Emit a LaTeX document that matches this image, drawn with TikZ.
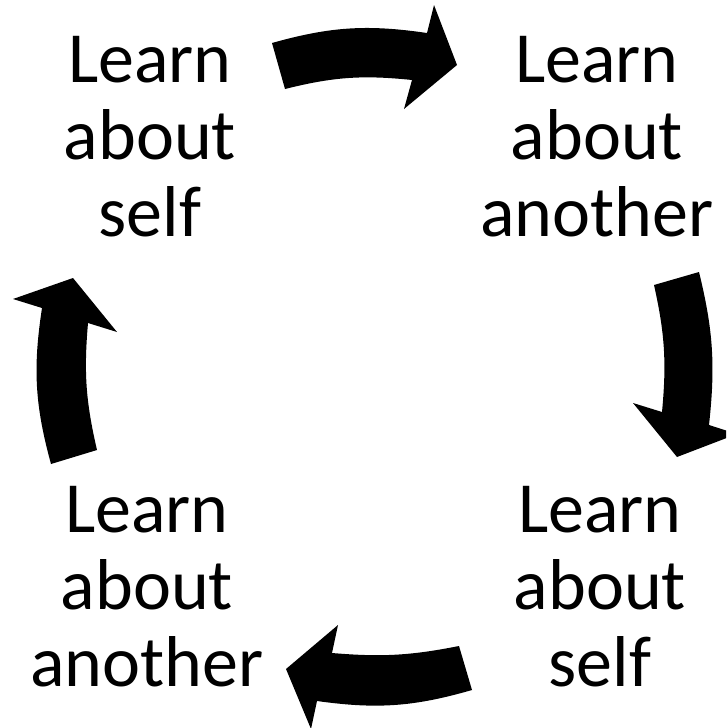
\documentclass[tikz,border=0pt]{standalone}
\usepackage{fontspec}
\setmainfont{Carlito}
\begin{document}
\begin{tikzpicture}[x=1pt,y=-1pt,
  lbl/.style={inner sep=0pt, anchor=base, font=\fontsize{72}{77}\selectfont},
  blockarrow/.style={fill=black, draw=none}]
\useasboundingbox (0,0) rectangle (726,728);
\clip (0,0) rectangle (726,728);
\node[lbl] (ts) at (150,82) {\begin{tabular}[t]{@{}c@{}}Learn\\about\\self\end{tabular}};
\node[lbl] (ta) at (597,82) {\begin{tabular}[t]{@{}c@{}}Learn\\about\\another\end{tabular}};
\node[lbl] (bs) at (600,532) {\begin{tabular}[t]{@{}c@{}}Learn\\about\\self\end{tabular}};
\node[lbl] (ba) at (147,532) {\begin{tabular}[t]{@{}c@{}}Learn\\about\\another\end{tabular}};
% top arrow
\fill[blockarrow] (272,43) to[bend left=12] (427,33) -- (434,5) -- (457,65) -- (404,109) -- (412,80) to[bend right=10] (285,89) -- cycle;
% right arrow
\fill[blockarrow] (699,272) to[bend left=10] (709,425) -- (737,434) -- (677,457) -- (633,403) -- (662,412) to[bend right=9] (654,285) -- cycle;
% bottom arrow
\fill[blockarrow] (472,690) to[bend left=12] (317,701) -- (311,729) -- (286,669) -- (338,625) -- (332,653) to[bend right=8] (459,646) -- cycle;
% left arrow
\fill[blockarrow] (51,464) to[bend left=12] (42,308) -- (13,299) -- (73,278) -- (117,332) -- (88,323) to[bend right=9] (97,450) -- cycle;
\end{tikzpicture}
\end{document}
